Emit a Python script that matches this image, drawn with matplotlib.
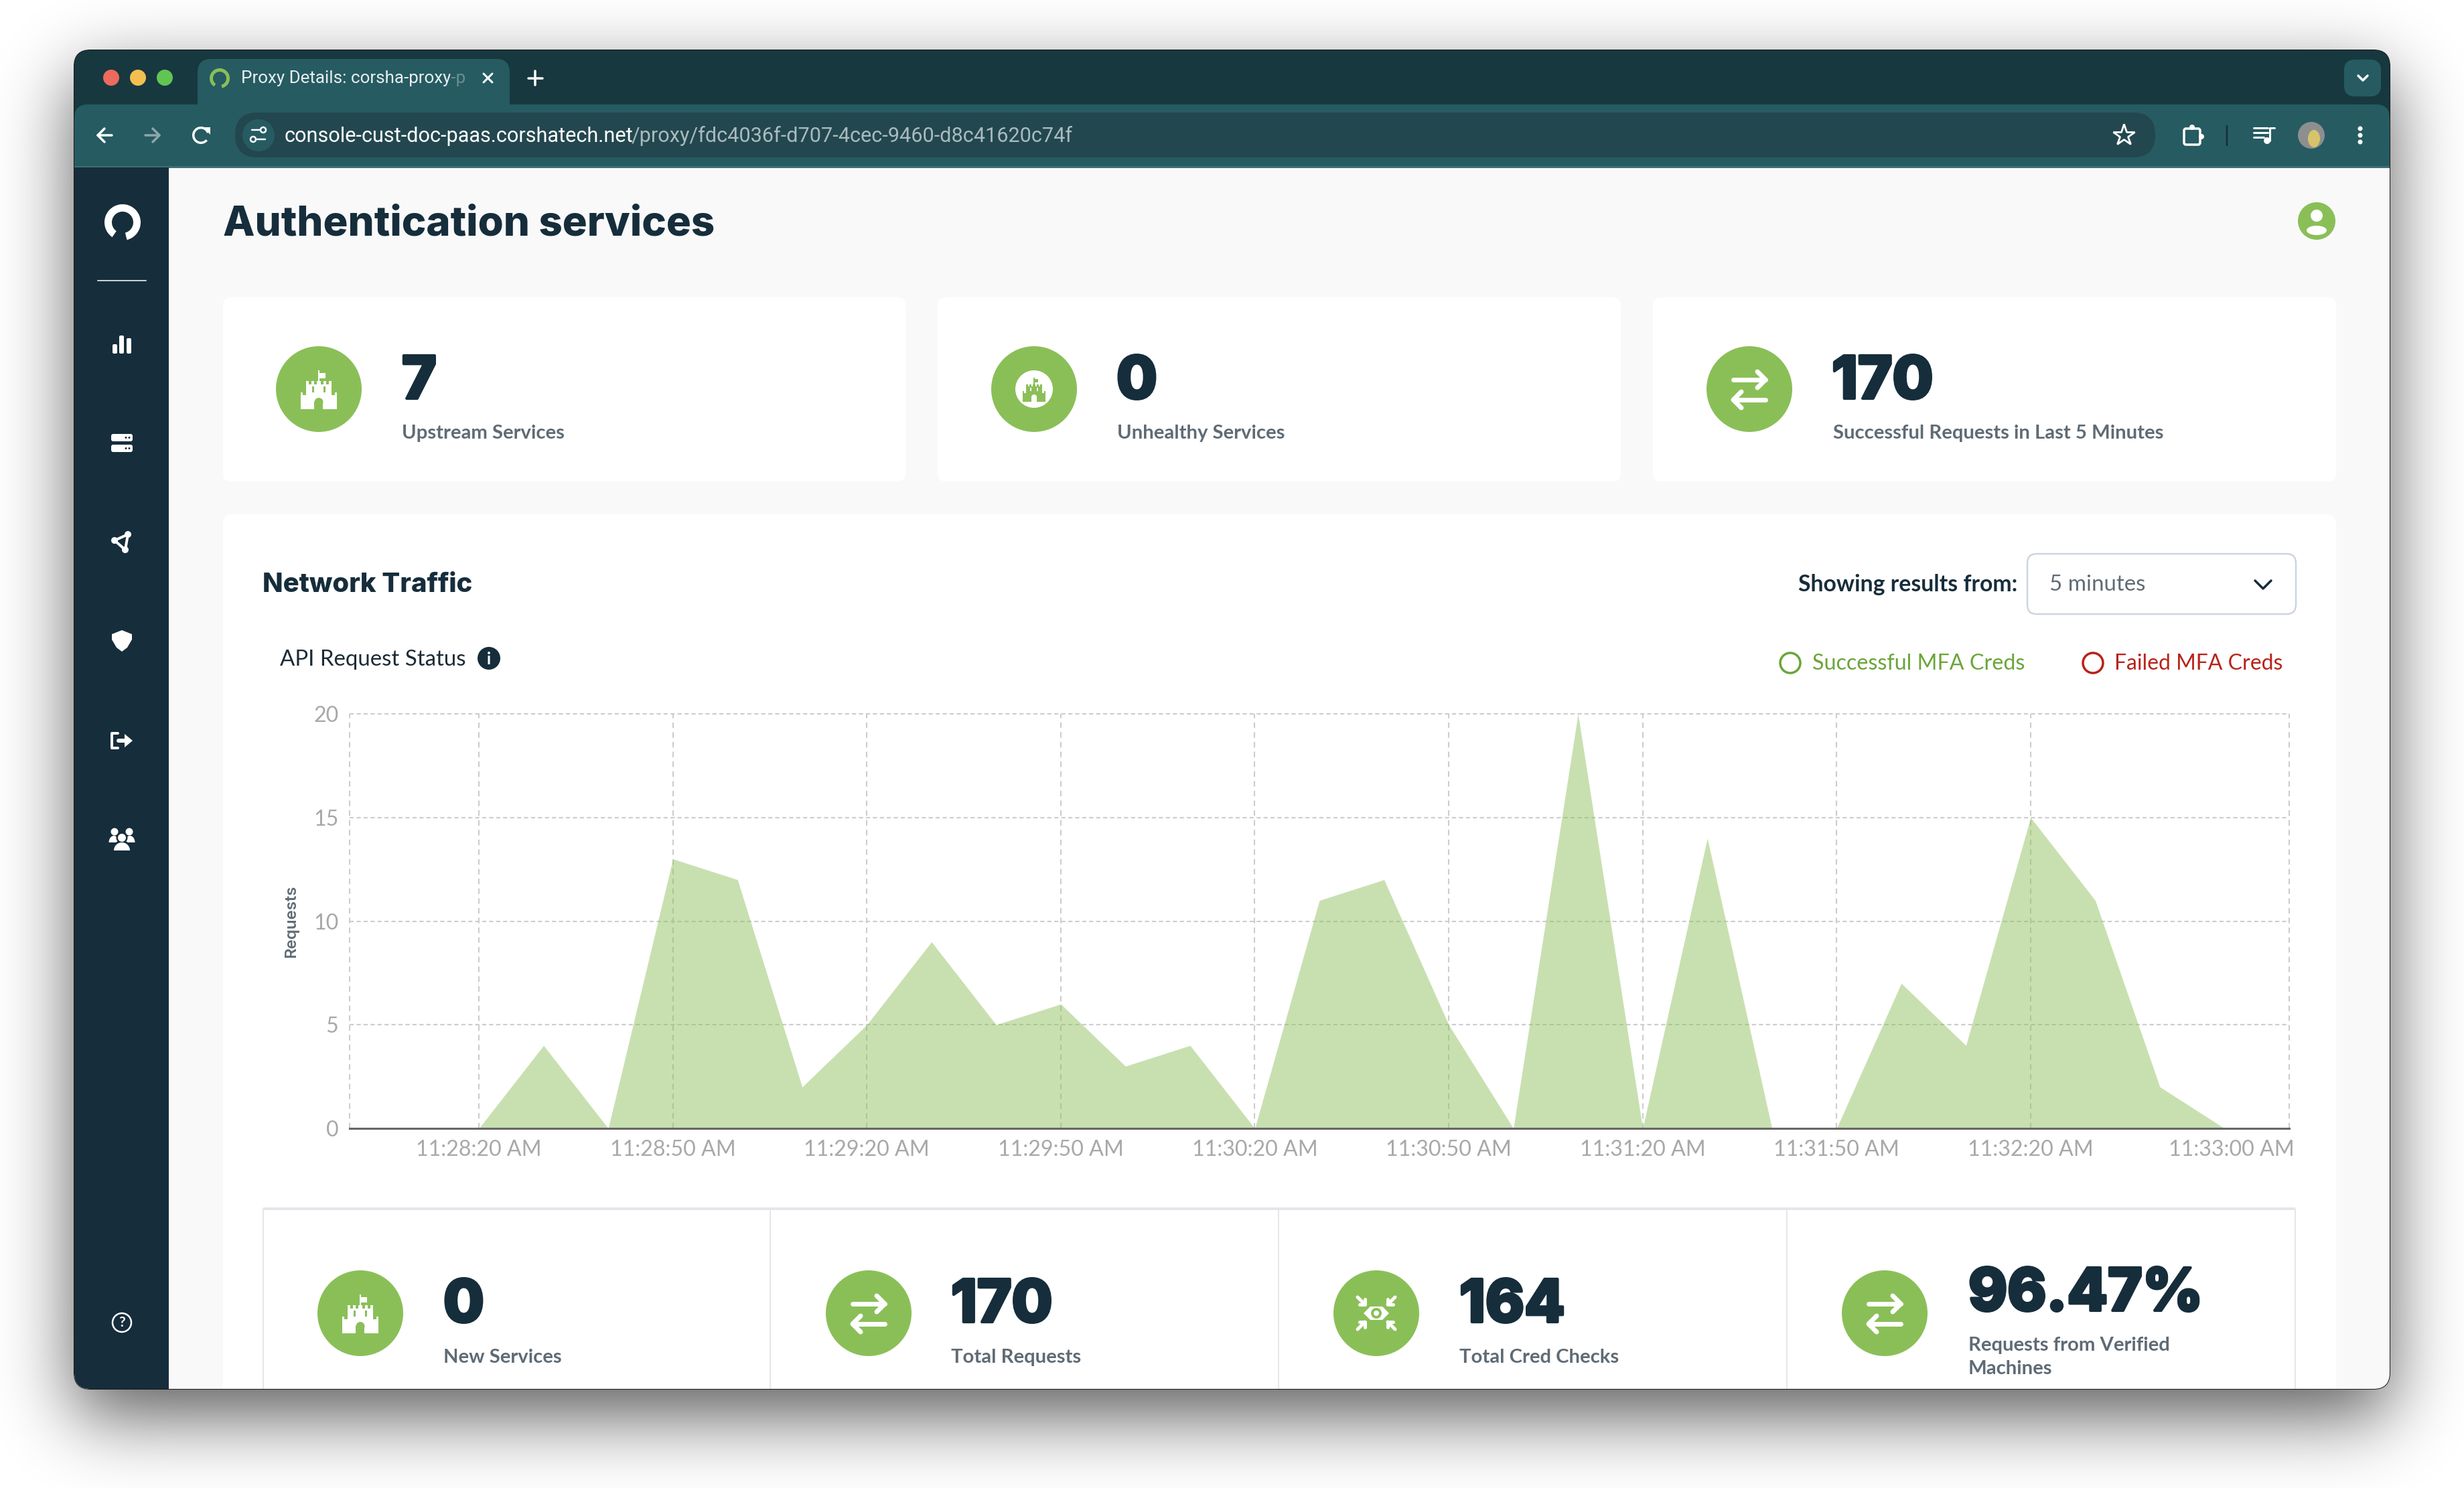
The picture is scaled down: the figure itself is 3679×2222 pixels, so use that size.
import math
import numpy as np
import pandas as pd
import matplotlib
matplotlib.use("Agg")
import matplotlib.pyplot as plt
import matplotlib.patheffects as pe
from matplotlib.patches import Circle, Ellipse, FancyBboxPatch, Polygon, Rectangle, Wedge
from matplotlib.transforms import ScaledTranslation

# chart data, one point every 10 seconds
times = ["11:28:00", "11:28:10", "11:28:20", "11:28:30", "11:28:40", "11:28:50", "11:29:00",
         "11:29:10", "11:29:20", "11:29:30", "11:29:40", "11:29:50", "11:30:00", "11:30:10",
         "11:30:20", "11:30:30", "11:30:40", "11:30:50", "11:31:00", "11:31:10", "11:31:20",
         "11:31:30", "11:31:40", "11:31:50", "11:32:00", "11:32:10", "11:32:20", "11:32:30",
         "11:32:40", "11:32:50", "11:33:00"]
requests = [0, 0, 0, 4, 0, 13, 12, 2, 5, 9, 5, 6, 3, 4, 0, 11, 12, 5, 0, 20, 0, 14, 0, 0, 7, 4, 15, 11, 2, 0, 0]
tick_times = ["11:28:00", "11:28:20", "11:28:50", "11:29:20", "11:29:50", "11:30:20", "11:30:50",
              "11:31:20", "11:31:50", "11:32:20", "11:33:00"]
tick_labels = ["", "11:28:20 AM", "11:28:50 AM", "11:29:20 AM", "11:29:50 AM", "11:30:20 AM", "11:30:50 AM",
               "11:31:20 AM", "11:31:50 AM", "11:32:20 AM", "11:33:00 AM"]
y_ticks = [0, 5, 10, 15, 20]

top_values = ["7", "0", "170"]
top_labels = ["Upstream Services", "Unhealthy Services", "Successful Requests in Last 5 Minutes"]
bottom_values = ["0", "170", "164", "96.47%"]
bottom_labels = ["New Services", "Total Requests", "Total Cred Checks", "Requests from Verified\nMachines"]

W, H = 3680, 2222
NAVY = "#162D3B"
GREEN = "#8ABF58"
TEAL_DARK = "#17383F"
TEAL = "#265B62"
GREY_TXT = "#5F6B75"
HEAD_FONT = ["Inter", "DejaVu Sans"]
BODY_FONT = ["Lato", "DejaVu Sans"]
UI_FONT = ["Roboto", "DejaVu Sans"]

fig = plt.figure(figsize=(W / 100, H / 100), dpi=100, facecolor="white")
ui = fig.add_axes([0, 0, 1, 1])
ui.set_axis_off()


def txt(x, y, s, px, color, weight="normal", family=BODY_FONT, ha="left", va="center", **kw):
    return ui.text(x, y, s, fontsize=px * 0.72, color=color, fontweight=weight,
                   family=family, ha=ha, va=va, **kw)


def big_num(x, y, s):
    # heavier and narrower than Inter gets by itself
    t = txt(x, y, s, 88, NAVY, weight=800, family=HEAD_FONT, va="baseline")
    t.set_path_effects([pe.withStroke(linewidth=3, foreground=NAVY)])


def rrect(x0, y0, x1, y1, r, fc, ec="none", lw=0, z=1, alpha=None):
    p = FancyBboxPatch((x0, y0), x1 - x0, y1 - y0, boxstyle="round,pad=0,rounding_size=%s" % r,
                       fc=fc, ec=ec, lw=lw * 0.72, zorder=z, alpha=alpha)
    ui.add_patch(p)
    return p


def rect(x0, y0, x1, y1, fc, z=1, alpha=None):
    p = Rectangle((x0, y0), x1 - x0, y1 - y0, fc=fc, ec="none", zorder=z, alpha=alpha)
    ui.add_patch(p)
    return p


def circ(x, y, r, fc, ec="none", lw=0, z=1):
    p = Circle((x, y), r, fc=fc, ec=ec, lw=lw * 0.72, zorder=z)
    ui.add_patch(p)
    return p


def ell(x, y, w, h, fc="white", z=2):
    ui.add_patch(Ellipse((x, y), w, h, fc=fc, ec="none", zorder=z))


def line(xs, ys, color="white", lw=4, z=2):
    ui.plot(xs, ys, color=color, lw=lw * 0.72, solid_capstyle="round", solid_joinstyle="round", zorder=z)


def poly(pts, fc="white", z=2):
    ui.add_patch(Polygon(pts, closed=True, fc=fc, ec="none", zorder=z))


def castle(cx, cy, s=1.0, fg="white", bg=GREEN, z=3):
    pts = [(-27, 30), (-27, 5), (-24, 5), (-24, 9), (-19, 9), (-19, -12),
           (-15, -12), (-15, -7), (-11, -7), (-11, -12), (-7, -12), (-7, -7), (-3, -7), (-3, -12),
           (-1, -12), (-1, -28), (1, -28), (1, -24), (10, -24), (10, -16), (1, -16), (1, -12),
           (3, -12), (3, -7), (7, -7), (7, -12), (11, -12), (11, -7), (15, -7), (15, -12), (19, -12),
           (19, 9), (24, 9), (24, 5), (27, 5), (27, 30)]
    poly([(cx + a * s, cy + b * s) for a, b in pts], fc=fg, z=z)
    rect(cx - 6.5 * s, cy + 19 * s, cx + 6.5 * s, cy + 30 * s, bg, z=z + 1)
    circ(cx, cy + 19.5 * s, 6.5 * s, bg, z=z + 1)
    rect(cx - 10 * s, cy - 4 * s, cx - 7 * s, cy + 5 * s, bg, z=z + 1)
    rect(cx + 7 * s, cy - 4 * s, cx + 10 * s, cy + 5 * s, bg, z=z + 1)


def swap_arrows(cx, cy):
    line([cx - 24, cx + 24], [cy - 14, cy - 14], lw=7, z=3)
    line([cx + 12, cx + 24, cx + 12], [cy - 26, cy - 14, cy - 2], lw=7, z=3)
    line([cx - 24, cx + 24], [cy + 16, cy + 16], lw=7, z=3)
    line([cx - 12, cx - 24, cx - 12], [cy + 4, cy + 16, cy + 28], lw=7, z=3)


def eye_arrows(cx, cy):
    poly([(cx - 19, cy), (cx - 9, cy - 10), (cx + 9, cy - 10), (cx + 19, cy), (cx + 9, cy + 10), (cx - 9, cy + 10)], z=3)
    circ(cx, cy, 8, GREEN, z=4)
    circ(cx, cy, 4, "white", z=5)
    for sx in (-1, 1):
        for sy in (-1, 1):
            line([cx + sx * 28, cx + sx * 17], [cy + sy * 24, cy + sy * 13], lw=5, z=3)
            line([cx + sx * 17, cx + sx * 17, cx + sx * 25], [cy + sy * 21, cy + sy * 13, cy + sy * 13], lw=5, z=3)


# window shadow
xx = np.arange(W) + 0.5
yy = np.arange(H) + 0.5
sig = 55.0
cdf = np.vectorize(lambda v: 0.5 * (1 + math.erf(v / (sig * math.sqrt(2)))))
sx = cdf(xx - 111) - cdf(xx - 3568)
sy = cdf(yy - 115) - cdf(yy - 2114)
shadow = np.zeros((H, W, 4))
shadow[..., 3] = 0.65 * np.outer(sy, sx)
ui.imshow(shadow, extent=(0, W, H, 0), aspect="auto", zorder=0)
ui.set_xlim(0, W)
ui.set_ylim(H, 0)

# browser window
window = rrect(111, 75, 3568, 2074, 24, "#F9F9F9", ec="#1a1a1a", lw=2, z=0.5)
ws = len(ui.patches)
rect(111, 75, 3568, 170, TEAL_DARK)
rrect(295, 88, 761, 190, 20, TEAL)
rrect(111, 156, 3568, 300, 20, TEAL)
rect(111, 248, 3568, 251, "#3F6F75")
rect(111, 251, 3568, 2074, "#F9F9F9")
circ(166, 116, 12, "#EC6A5E")
circ(206, 116, 12, "#F4BF4F")
circ(246, 116, 12, "#61C554")
ui.add_patch(Wedge((328, 117), 15, 125, 436, width=5, fc=GREEN, ec="none", zorder=2))
txt(360, 117, "Proxy Details: corsha-proxy-p", 26, "#E8EEEF", family=UI_FONT)
rect(672, 100, 700, 135, TEAL, z=4, alpha=0.65)
line([722, 735], [110, 123], lw=3)
line([722, 735], [123, 110], lw=3)
line([799, 799], [106, 127], lw=3.5)
line([789, 810], [116.5, 116.5], lw=3.5)
rrect(3500, 89, 3555, 144, 16, TEAL)
line([3521, 3528, 3535], [113, 120, 113], lw=3.5)

# toolbar
line([146, 167], [202, 202], lw=3.5)
line([156, 146, 156], [192, 202, 212], lw=3.5)
line([217, 238], [202, 202], color="#8FA6A9", lw=3.5)
line([228, 238, 228], [192, 202, 212], color="#8FA6A9", lw=3.5)
ui.add_patch(Wedge((300, 202), 13, 40, 340, width=3.5, fc="white", ec="none", zorder=2))
poly([(303, 190), (314, 190), (314, 201)])
rrect(351, 168, 3218, 235, 33, "#23474F")
circ(386, 202, 24, TEAL)
line([376, 388], [194, 194], lw=2.5)
line([384, 396], [208, 208], lw=2.5)
circ(393, 194, 4, "none", ec="white", lw=2.5, z=2)
circ(378, 208, 4, "none", ec="white", lw=2.5, z=2)
txt(425, 203, "console-cust-doc-paas.corshatech.net", 30.6, "white", family=UI_FONT)
txt(943, 203, "/proxy/fdc4036f-d707-4cec-9460-d8c41620c74f", 30.6, "#A9BBBE", family=UI_FONT)
ui.plot([3171], [202], marker="*", ms=24, mfc="none", mec="white", mew=2, zorder=2)
rrect(3261, 192, 3285, 216, 3, "none", ec="white", lw=3.5, z=2)
circ(3273, 190, 4, "white", z=2)
circ(3287, 204, 4, "white", z=2)
line([3325, 3325], [188, 217], color=NAVY, lw=2.5)
line([3365, 3386], [191, 191], lw=3)
line([3365, 3386], [198, 198], lw=3)
line([3365, 3380], [205, 205], lw=3)
line([3389, 3389, 3396], [210, 191, 191], lw=3)
circ(3385, 210, 5, "white", z=2)
circ(3451, 202, 20, "#8C8F8E")
ell(3455, 207, 18, 26, fc="#D6C36A")
circ(3524, 192, 3.5, "white", z=2)
circ(3524, 202, 3.5, "white", z=2)
circ(3524, 212, 3.5, "white", z=2)

# sidebar
rect(111, 250, 252, 2074, NAVY)
ui.add_patch(Wedge((183, 332), 27, 125, 436, width=11, fc="white", ec="none", zorder=2))
line([146, 218], [419, 419], color="#C9D1D6", lw=2)
for bx, by0 in zip([168, 178, 189], [514, 501, 505]):
    rrect(bx, by0, bx + 7, 528, 2, "white", z=2)
for sy0 in (648, 664):
    rrect(166, sy0, 198, sy0 + 11, 3, "white", z=2)
    circ(188, sy0 + 5.5, 1.5, NAVY, z=3)
    circ(193, sy0 + 5.5, 1.5, NAVY, z=3)
line([171, 191, 187, 171], [807, 798, 821, 807], lw=4)
circ(171, 807, 5, "white", z=2)
circ(191, 798, 5, "white", z=2)
circ(187, 821, 5, "white", z=2)
poly([(182, 941), (197, 947), (197, 955), (190, 967), (182, 973), (174, 967), (167, 955), (167, 947)])
line([176, 167, 167, 176], [1095, 1095, 1117, 1117], lw=4)
line([177, 188], [1106, 1106], lw=6)
poly([(186, 1096), (198, 1106), (186, 1116)])
# users icon, outer two behind the middle one
circ(171, 1242, 5.5, "white", z=2)
circ(193, 1242, 5.5, "white", z=2)
ell(170, 1258, 15, 20)
ell(194, 1258, 15, 20)
rect(158, 1258, 206, 1275, NAVY, z=2.1)
ell(182, 1270, 30, 30, fc=NAVY, z=2.2)
circ(182, 1251, 8.5, NAVY, z=2.2)
circ(182, 1251, 6, "white", z=2.3)
ell(182, 1270, 24, 24, z=2.3)
rect(165, 1270, 199, 1290, NAVY, z=2.4)
circ(182, 1975, 14, "none", ec="white", lw=2.5, z=2)
txt(182, 1975, "?", 21, "white", weight="bold", ha="center")

# header
txt(333, 351, "Authentication services", 61.7, NAVY, weight=800, family=HEAD_FONT, va="baseline")
circ(3459, 330, 28, GREEN)
circ(3459, 322, 9, "white", z=2)
ell(3459, 344, 30, 14)

# top stat cards
card_x = [(333, 1352), (1400, 2420), (2468, 3488)]
icon_x = [476, 1544, 2612]
num_x = [600, 1667, 2735]
label_x = [600, 1668, 2737]
for i in range(3):
    for grow, a in zip((14, 9, 4), (0.012, 0.016, 0.02)):
        rrect(card_x[i][0] - grow, 444 - grow + 6, card_x[i][1] + grow, 719 + grow + 6, 14, "#3A4A55", z=0.9, alpha=a)
    rrect(card_x[i][0], 444, card_x[i][1], 719, 12, "white")
    circ(icon_x[i], 581, 64, GREEN, z=2)
    big_num(num_x[i], 595, top_values[i])
    txt(label_x[i], 647, top_labels[i], 29.2, GREY_TXT, weight="bold")
castle(icon_x[0], 581)
circ(icon_x[1], 581, 28, "white", z=3)
castle(icon_x[1], 581, s=0.62, fg=GREEN, bg="white", z=4)
swap_arrows(icon_x[2], 581)

# network traffic panel
for grow, a in zip((14, 9, 4), (0.012, 0.016, 0.02)):
    rrect(333 - grow, 768 - grow + 6, 3488 + grow, 2200, 14, "#3A4A55", z=0.9, alpha=a)
rrect(333, 768, 3488, 2200, 14, "white")
txt(392, 874, "Network Traffic", 40, NAVY, weight=800, family=HEAD_FONT)
txt(3012, 873, "Showing results from:", 33.8, NAVY, weight="bold", ha="right")
rrect(3027, 827, 3428, 917, 14, "white", ec="#CDD5DF", lw=2.5)
txt(3060, 873, "5 minutes", 33, GREY_TXT)
line([3367, 3379, 3391], [867, 879, 867], color=NAVY, lw=3.5)
txt(418, 985, "API Request Status", 33, "#1B2B36")
circ(730, 983, 17, NAVY)
txt(730, 984, "i", 24, "white", weight="bold", ha="center")
circ(2673, 990, 15, "white", ec="#6BA53A", lw=3.5)
txt(2706, 991, "Successful MFA Creds", 32.3, "#6BA53A")
circ(3125, 990, 15, "white", ec="#B8231A", lw=3.5)
txt(3157, 991, "Failed MFA Creds", 32, "#B8231A")

# bottom stat table
rect(393, 1803, 3427, 1807, "#E5E6EB")
for vx in [393, 1150, 1909, 2668, 3427]:
    rect(vx - 1, 1805, vx + 1, 2074, "#E5E6EB")
bot_icon_x = [538, 1297, 2055, 2814]
bot_text_x = [662, 1420, 2179, 2939]
for i in range(4):
    circ(bot_icon_x[i], 1961, 64, GREEN, z=2)
    base = 1957 if i == 3 else 1974
    big_num(bot_text_x[i], base, bottom_values[i])
    if i == 3:
        first, second = bottom_labels[i].split("\n")
        txt(bot_text_x[i], 2009, first, 29.2, GREY_TXT, weight="bold")
        txt(bot_text_x[i], 2044, second, 29.2, GREY_TXT, weight="bold")
    else:
        txt(bot_text_x[i], 2027, bottom_labels[i], 29.2, GREY_TXT, weight="bold")
castle(bot_icon_x[0], 1961)
swap_arrows(bot_icon_x[1], 1961)
eye_arrows(bot_icon_x[2], 1961)
swap_arrows(bot_icon_x[3], 1961)

for art in ui.patches[ws:]:
    art.set_clip_path(window)

# the chart itself
ax = fig.add_axes([522 / W, 1 - 1685 / H, (3418 - 522) / W, (1685 - 1066) / H], facecolor="none", zorder=5)
t = pd.to_datetime(times, format="%H:%M:%S")
ticks = pd.to_datetime(tick_times, format="%H:%M:%S")
ax.fill_between(t, requests, 0, color=GREEN, alpha=0.47, lw=0, zorder=3)
ax.set_xlim(t[0], t[-1])
ax.set_ylim(0, 20)
ax.set_xticks(ticks)
ax.set_xticklabels(tick_labels)
ax.set_yticks(y_ticks)
ax.tick_params(length=0, labelsize=32.2 * 0.72, labelcolor="#A8A8A8", pad=12)
ax.tick_params(axis="y", pad=12)
for lab in ax.get_xticklabels() + ax.get_yticklabels():
    lab.set_family(BODY_FONT)
ax.grid(True, axis="x", color="#CDCDCD", lw=1.5, ls=(0, (4, 3)), zorder=1)
ax.grid(True, axis="y", color="#CDCDCD", lw=1.5, ls=(0, (3, 2)), zorder=1)
for gl in ax.get_xgridlines() + ax.get_ygridlines():
    gl.set_clip_on(False)
for name in ["top", "left", "right"]:
    ax.spines[name].set_visible(False)
ax.spines["bottom"].set_color("#666666")
ax.spines["bottom"].set_linewidth(2.2)
ax.spines["bottom"].set_zorder(4)
# last label sits left of its tick, like the original
last = ax.get_xticklabels()[-1]
last.set_ha("right")
last.set_transform(last.get_transform() + ScaledTranslation(8 / 100, 0, fig.dpi_scale_trans))
txt(435, 1376, "Requests", 24, GREY_TXT, weight=600, family=HEAD_FONT, ha="center", rotation=90)

fig.savefig("out.png", dpi=100)
